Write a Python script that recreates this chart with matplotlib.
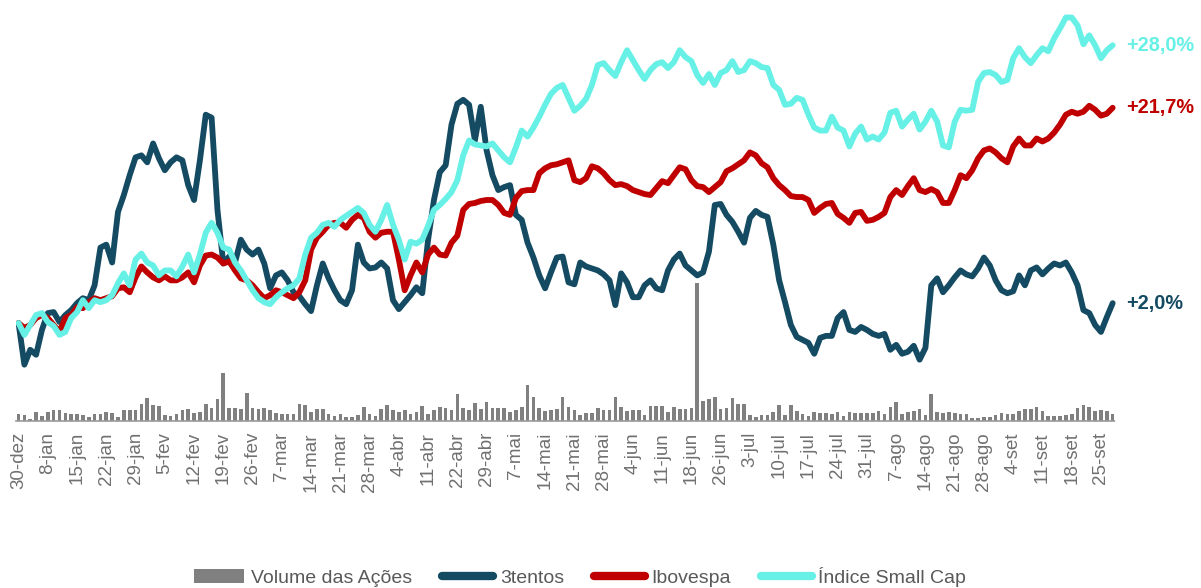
import matplotlib
matplotlib.use('Agg')
import matplotlib.pyplot as plt
from matplotlib.lines import Line2D
from matplotlib.patches import Patch
import numpy as np

# one label every 5 sessions
tick_labels = ['30-dez', '8-jan', '15-jan', '22-jan', '29-jan', '5-fev', '12-fev', '19-fev',
               '26-fev', '7-mar', '14-mar', '21-mar', '28-mar', '4-abr', '11-abr', '22-abr',
               '29-abr', '7-mai', '14-mai', '21-mai', '28-mai', '4-jun', '11-jun', '18-jun',
               '26-jun', '3-jul', '10-jul', '17-jul', '24-jul', '31-jul', '7-ago', '14-ago',
               '21-ago', '28-ago', '4-set', '11-set', '18-set', '25-set']

# accumulated return (%) since 30-dez, one value per session
tentos = [0, -4.2, -2.7, -3.2, -0.7, 1.0, 1.1, 0.1, 0.8, 1.3,
          2.0, 2.5, 2.3, 3.8, 7.6, 7.9, 6.1, 11.2, 12.9, 14.9,
          16.7, 16.9, 16.2, 18.1, 16.6, 15.4, 16.2, 16.7, 16.4, 13.9,
          12.4, 16.4, 21.0, 20.7, 11.4, 6.0, 6.7, 6.1, 8.4, 7.4,
          6.9, 7.4, 6.0, 3.5, 4.8, 5.1, 4.3, 3.1, 2.7, 1.9,
          1.2, 3.8, 6.0, 4.5, 3.3, 2.3, 1.9, 3.3, 7.9, 6.1,
          5.5, 5.6, 6.1, 5.5, 2.3, 1.4, 2.1, 2.8, 3.6, 3.0,
          8.4, 12.4, 15.2, 15.9, 20.0, 22.1, 22.5, 22.0, 18.4, 21.8,
          17.4, 14.9, 13.4, 13.7, 13.9, 10.9, 10.4, 8.1, 6.6, 4.8,
          3.5, 5.1, 6.6, 6.7, 4.1, 3.9, 6.1, 5.7, 5.5, 5.3,
          4.9, 4.3, 1.8, 5.0, 4.1, 2.6, 2.6, 3.8, 4.3, 3.5,
          3.3, 5.3, 6.4, 7.0, 5.8, 5.3, 4.8, 5.1, 7.2, 11.9,
          12.0, 10.9, 10.2, 9.2, 8.1, 10.6, 11.3, 10.9, 10.7, 7.9,
          4.3, 2.1, -0.2, -1.4, -1.7, -2.0, -3.1, -1.5, -1.3, -1.3,
          0.5, 1.1, -0.7, -0.9, -0.4, -0.7, -1.1, -1.3, -1.1, -2.7,
          -2.2, -3.1, -2.9, -2.3, -3.7, -2.5, 3.8, 4.5, 3.1, 3.8,
          4.6, 5.3, 4.9, 4.7, 5.5, 6.6, 5.8, 4.3, 3.3, 3.0,
          3.2, 4.8, 3.8, 5.3, 5.6, 4.9, 5.5, 6.0, 5.8, 6.1,
          5.1, 3.8, 1.3, 1.0, -0.2, -0.9, 0.6, 2.0]

ibovespa = [0, -0.5, -0.2, 0.5, 0.8, 0.5, -0.2, -0.9, 0.5, 0.8,
            1.6, 1.5, 2.1, 2.5, 2.3, 2.5, 2.7, 3.5, 3.6, 3.1,
            4.6, 5.7, 5.1, 4.6, 4.3, 4.7, 4.3, 4.3, 4.6, 5.1,
            4.1, 5.8, 6.8, 6.9, 6.6, 6.0, 6.2, 5.3, 4.5, 4.3,
            3.8, 3.1, 2.5, 2.8, 3.3, 3.1, 2.8, 2.5, 3.1, 4.3,
            7.4, 8.6, 9.2, 9.9, 10.1, 10.1, 9.6, 10.4, 10.9, 10.6,
            9.2, 8.6, 9.1, 9.2, 9.2, 6.4, 3.3, 4.8, 6.1, 5.1,
            6.9, 7.6, 6.9, 6.8, 8.1, 8.8, 11.4, 12.0, 12.1, 12.3,
            12.4, 12.4, 11.9, 11.1, 10.9, 12.6, 13.3, 13.4, 13.4, 15.1,
            15.6, 15.9, 16.0, 16.2, 16.4, 14.4, 14.2, 14.6, 15.8, 15.6,
            15.1, 14.4, 13.9, 14.0, 13.8, 13.4, 13.2, 13.0, 12.9, 13.6,
            14.3, 14.1, 14.9, 15.7, 15.5, 14.4, 13.8, 13.7, 13.2, 13.7,
            14.2, 15.3, 15.6, 16.0, 16.4, 17.2, 16.9, 16.1, 15.7, 14.6,
            13.9, 13.4, 12.8, 12.7, 12.7, 12.4, 11.1, 11.6, 12.0, 12.1,
            11.0, 10.6, 10.1, 11.1, 11.2, 10.3, 10.4, 10.7, 11.1, 12.7,
            13.4, 12.9, 13.8, 14.6, 13.4, 13.2, 13.5, 13.2, 12.1, 12.1,
            13.4, 14.9, 14.6, 15.4, 16.6, 17.4, 17.6, 17.2, 16.6, 16.2,
            17.8, 18.6, 17.9, 17.9, 18.6, 18.3, 18.6, 19.2, 20.0, 21.0,
            21.3, 21.1, 21.3, 21.9, 21.5, 20.9, 21.1, 21.7]

small_cap = [0, -1.2, -0.2, 0.8, 1.0, 0.1, -0.3, -1.2, -0.9, 0.5,
             1.1, 2.3, 1.5, 2.3, 2.1, 2.3, 2.8, 4.0, 5.0, 3.8,
             6.4, 7.0, 6.1, 5.8, 4.8, 5.3, 5.3, 4.7, 5.7, 6.9,
             5.1, 6.9, 9.1, 10.1, 9.1, 7.6, 7.4, 6.1, 5.3, 4.3,
             3.3, 2.5, 2.1, 1.9, 2.6, 3.1, 3.5, 3.8, 4.5, 6.9,
             8.6, 9.1, 9.9, 10.1, 9.7, 10.4, 10.8, 11.2, 11.6, 11.1,
             9.9, 9.2, 10.4, 11.9, 9.9, 8.4, 6.4, 8.2, 8.0, 8.4,
             9.8, 11.4, 11.9, 12.5, 13.2, 14.4, 16.9, 18.4, 18.0, 17.9,
             17.8, 18.1, 17.4, 16.7, 16.2, 17.7, 19.4, 18.8, 19.7, 20.8,
             22.0, 23.1, 23.7, 24.0, 22.7, 21.4, 21.9, 22.6, 24.0, 26.0,
             26.2, 25.5, 24.9, 26.3, 27.5, 26.5, 25.5, 24.6, 25.5, 26.1,
             26.3, 25.7, 26.3, 27.5, 26.8, 26.4, 25.0, 24.2, 25.1, 24.0,
             25.2, 25.5, 26.4, 25.3, 25.5, 26.4, 26.2, 25.8, 25.7, 24.0,
             23.5, 22.0, 22.1, 22.7, 22.5, 21.0, 19.7, 19.4, 19.4, 20.8,
             19.7, 19.4, 17.8, 19.1, 19.8, 18.5, 18.8, 18.5, 19.2, 21.2,
             21.4, 19.8, 20.5, 21.1, 19.5, 20.3, 21.4, 20.3, 17.9, 17.7,
             20.3, 21.5, 21.4, 21.5, 24.3, 25.2, 25.3, 25.0, 24.3, 24.5,
             26.7, 27.7, 26.8, 26.2, 27.0, 27.7, 27.4, 28.7, 29.7, 30.8,
             30.8, 30.0, 28.1, 29.0, 28.0, 26.7, 27.5, 28.0]

# traded volume (relative units), one bar per session
volume = [7, 6, 2, 9, 5, 9, 11, 11, 8, 7, 7, 6, 4, 7, 7, 9, 8, 4, 11, 11,
          11, 17, 23, 16, 15, 6, 5, 7, 11, 12, 8, 9, 17, 13, 22, 48, 13, 13, 12, 28,
          13, 12, 13, 11, 8, 7, 7, 7, 17, 16, 9, 12, 12, 7, 5, 7, 4, 4, 6, 14,
          7, 5, 12, 16, 11, 9, 11, 7, 9, 15, 7, 11, 14, 13, 11, 27, 13, 11, 18, 12,
          19, 13, 13, 13, 9, 11, 14, 36, 24, 13, 10, 11, 12, 24, 14, 11, 6, 8, 8, 13,
          11, 11, 24, 14, 10, 11, 11, 6, 15, 15, 15, 9, 14, 12, 12, 13, 138, 20, 22, 24,
          12, 13, 23, 17, 17, 6, 4, 6, 6, 9, 16, 6, 16, 10, 7, 5, 9, 8, 8, 7,
          9, 5, 9, 8, 8, 8, 8, 10, 7, 14, 19, 7, 9, 10, 12, 6, 27, 9, 8, 9,
          8, 7, 7, 3, 3, 4, 4, 6, 8, 7, 7, 10, 12, 12, 14, 10, 5, 5, 5, 6,
          7, 13, 16, 14, 10, 11, 10, 7]

c_tentos = '#144B63'
c_ibov = '#C00000'
c_small = '#66F0E6'
c_vol = '#808080'
c_text = '#707070'
fonte = ['Liberation Sans', 'DejaVu Sans']

x = np.arange(len(tentos))

fig = plt.figure(figsize=(12.01, 5.88), dpi=100)
rect = [15.6 / 1201, 167 / 588, 1100 / 1201, 416 / 588]

ax_vol = fig.add_axes(rect)
ax_vol.bar(x, volume, width=0.62, color=c_vol)
ax_vol.set_ylim(0, 416)
ax_vol.set_xlim(-0.5, len(x) - 0.5)
ax_vol.axis('off')

ax = fig.add_axes(rect)
ax.patch.set_visible(False)
for serie, cor in [(tentos, c_tentos), (ibovespa, c_ibov), (small_cap, c_small)]:
    ax.plot(x, serie, color=cor, lw=4.2, solid_joinstyle='round', solid_capstyle='round')
ax.set_xlim(-0.5, len(x) - 0.5)
ax.set_ylim(-9.88, 32.06)

for s in ['top', 'right', 'left']:
    ax.spines[s].set_visible(False)
ax.spines['bottom'].set_color('#9A9A9A')
ax.spines['bottom'].set_linestyle((0, (2, 1)))
ax.spines['bottom'].set_linewidth(1.2)
ax.set_yticks([])
ax.set_xticks(np.arange(0, len(tick_labels) * 5, 5))
ax.set_xticklabels(tick_labels, rotation=90, fontsize=13.5, color=c_text, family=fonte)
ax.tick_params(axis='x', length=0, pad=8)

# end labels
for serie, cor in [(small_cap, c_small), (ibovespa, c_ibov), (tentos, c_tentos)]:
    ax.annotate('+{:.1f}%'.format(serie[-1]).replace('.', ','),
                xy=(x[-1], serie[-1]), xytext=(10, 0), textcoords='offset points',
                va='center', ha='left', color=cor, fontsize=14.3, fontweight='bold',
                family=fonte, annotation_clip=False)

handles = [Patch(facecolor=c_vol, edgecolor='none'),
           Line2D([], [], color=c_tentos, lw=6, solid_capstyle='round'),
           Line2D([], [], color=c_ibov, lw=6, solid_capstyle='round'),
           Line2D([], [], color=c_small, lw=6, solid_capstyle='round')]
leg = fig.legend(handles, ['Volume das Ações', '3tentos', 'Ibovespa', 'Índice Small Cap'],
                 loc='center', bbox_to_anchor=(580 / 1201, 1 - 577 / 588), ncol=4,
                 frameon=False, handlelength=2.6, handletextpad=0.35, columnspacing=1.55,
                 prop={'family': fonte, 'size': 14})
for t in leg.get_texts():
    t.set_color('#595959')

fig.savefig('out.png', dpi=100)
